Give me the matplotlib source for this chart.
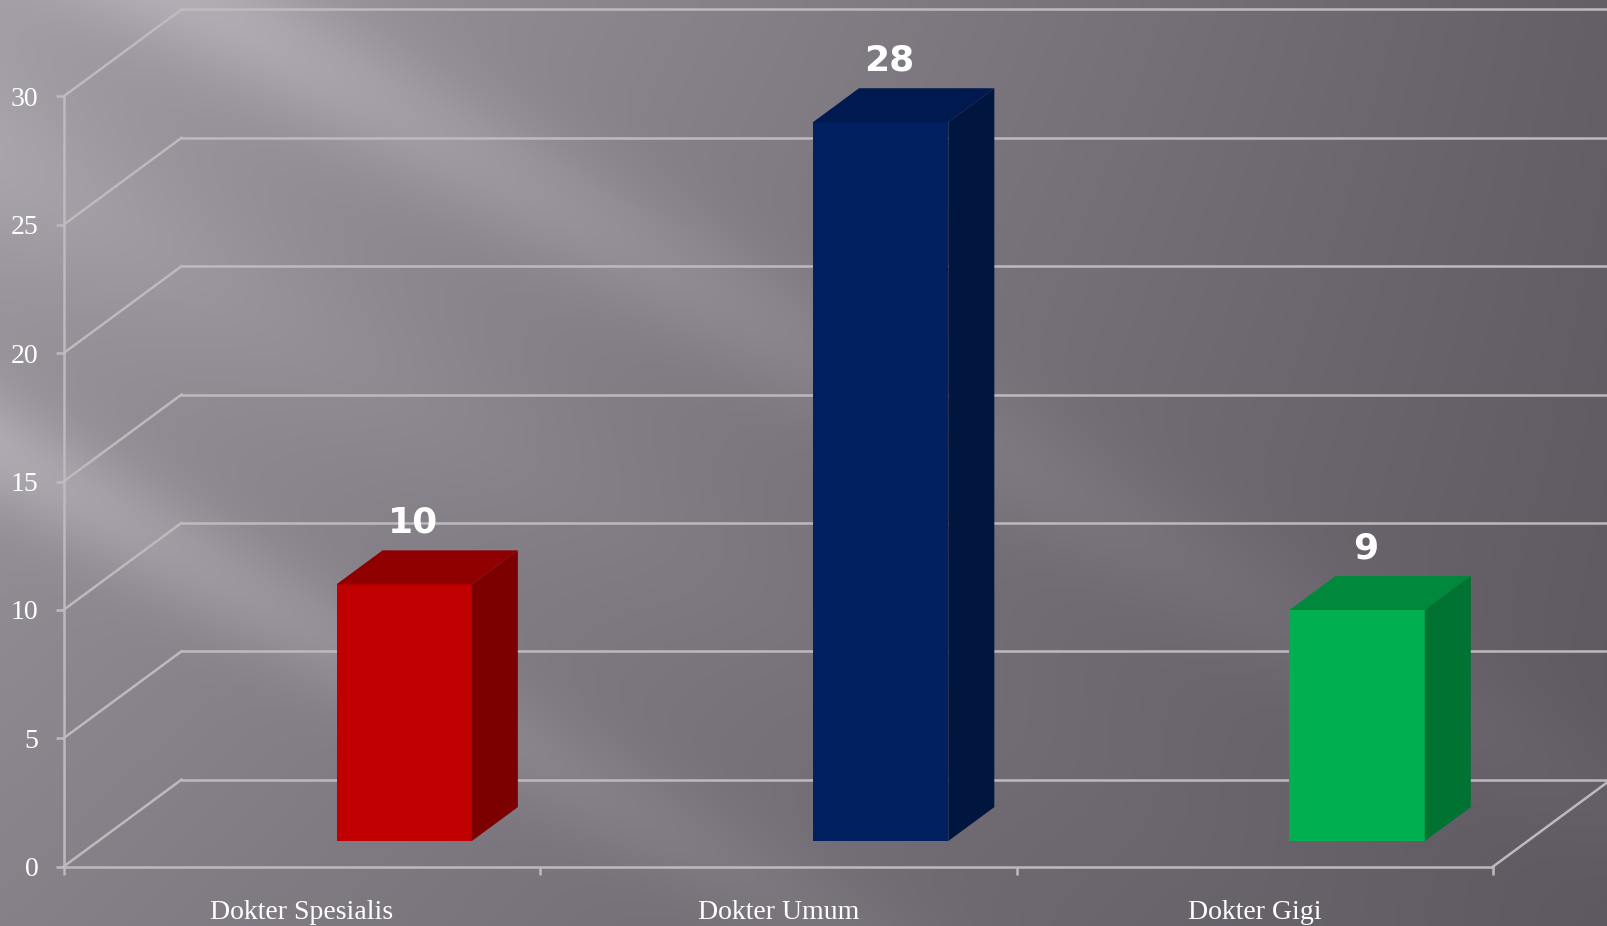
import numpy as np
import matplotlib
matplotlib.use("Agg")
import matplotlib.pyplot as plt
from matplotlib.patches import Polygon, Rectangle

# data
categories = ["Dokter Spesialis", "Dokter Umum", "Dokter Gigi"]
values = [10, 28, 9]
front_colors = ["#C00000", "#002060", "#00B050"]
top_colors = ["#900000", "#001A50", "#00883C"]
side_colors = ["#7C0000", "#00163F", "#007232"]
y_ticks = [0, 5, 10, 15, 20, 25, 30]

W, H = 1608, 926
fig = plt.figure(figsize=(W / 100, H / 100), dpi=100)

# background: grey gradient with soft diagonal streaks
bg = fig.add_axes([0, 0, 1, 1], zorder=0)
yy, xx = np.mgrid[0:H:2, 0:W:2].astype(float)
fx = xx / W
fy = yy / H
base = 160 - 62 * fx - 28 * fy + 22 * fx * fy
u = yy - 0.57 * xx
streak = 30 * np.exp(-((u + 115) / 70) ** 2) * np.exp(-xx / 900)
streak += 26 * np.exp(-((u - 450) / 60) ** 2) * np.exp(-xx / 700)
streak += 12 * np.exp(-((u - 160) / 90) ** 2) * np.exp(-xx / 500)
lum = base + streak
img = np.stack([lum + 2, lum - 3, lum + 5], axis=-1)
img = np.clip(img, 0, 255) / 255
bg.imshow(img, extent=[0, 1, 0, 1], aspect="auto", interpolation="bilinear")
bg.set_axis_off()

# main axes = front plane of the 3D box
left, right = 63.6, 1493.0
top, bottom = 96.4, 866.6
ax = fig.add_axes([left / W, (H - bottom) / H, (right - left) / W, (bottom - top) / H], zorder=1)
ax.set_xlim(0, 3)
ax.set_ylim(0, 30)
ax.patch.set_visible(False)

px_x = (right - left) / 3
px_y = (bottom - top) / 30
DX = 118 / px_x
DY = 87 / px_y

grid_c = "#BDBABF"
lw = 1.8
for v in y_ticks:
    ax.plot([0, DX], [v, v + DY], color=grid_c, lw=lw, clip_on=False, zorder=1)
    ax.plot([DX, 3 + DX + 0.3], [v + DY, v + DY], color=grid_c, lw=lw, clip_on=False, zorder=1)
ax.plot([3, 3 + DX], [0, DY], color=grid_c, lw=lw, clip_on=False, zorder=1)

for s in ["top", "right"]:
    ax.spines[s].set_visible(False)
for s in ["left", "bottom"]:
    ax.spines[s].set_color(grid_c)
    ax.spines[s].set_linewidth(lw)

serif = ["Liberation Serif", "DejaVu Serif"]
ax.set_yticks(y_ticks)
ax.set_yticklabels([str(t) for t in y_ticks], fontsize=20, color="white", family=serif)
ax.tick_params(axis="y", length=6, width=lw, color=grid_c, pad=12)
ax.set_xticks([0, 1, 2, 3])
ax.set_xticklabels([])
ax.tick_params(axis="x", which="major", length=6, width=lw, color=grid_c)
ax.set_xticks([0.5, 1.5, 2.5], minor=True)
ax.set_xticklabels(categories, minor=True, fontsize=20, color="white", family=serif)
ax.tick_params(axis="x", which="minor", length=0, pad=24)

# 3D columns
f0 = 0.294   # depth position of the front face
d = 0.39     # column depth
bw = 0.284   # column width
for i, v in enumerate(values):
    x0 = i + 0.5 + f0 * DX
    y0 = f0 * DY
    ax.add_patch(Rectangle((x0, y0), bw, v, facecolor=front_colors[i], edgecolor="none", zorder=3, clip_on=False))
    ax.add_patch(Polygon([(x0, y0 + v), (x0 + bw, y0 + v), (x0 + bw + d * DX, y0 + v + d * DY),
                          (x0 + d * DX, y0 + v + d * DY)],
                         facecolor=top_colors[i], edgecolor="none", zorder=3, clip_on=False))
    ax.add_patch(Polygon([(x0 + bw, y0), (x0 + bw + d * DX, y0 + d * DY), (x0 + bw + d * DX, y0 + v + d * DY),
                          (x0 + bw, y0 + v)],
                         facecolor=side_colors[i], edgecolor="none", zorder=3, clip_on=False))
    ax.text(x0 + bw / 2 + 0.018, v + 3.4, str(v), ha="center", va="center", color="white",
            fontsize=26, fontweight="heavy", family="DejaVu Sans", zorder=4, clip_on=False)

fig.savefig("out.png", dpi=100)
